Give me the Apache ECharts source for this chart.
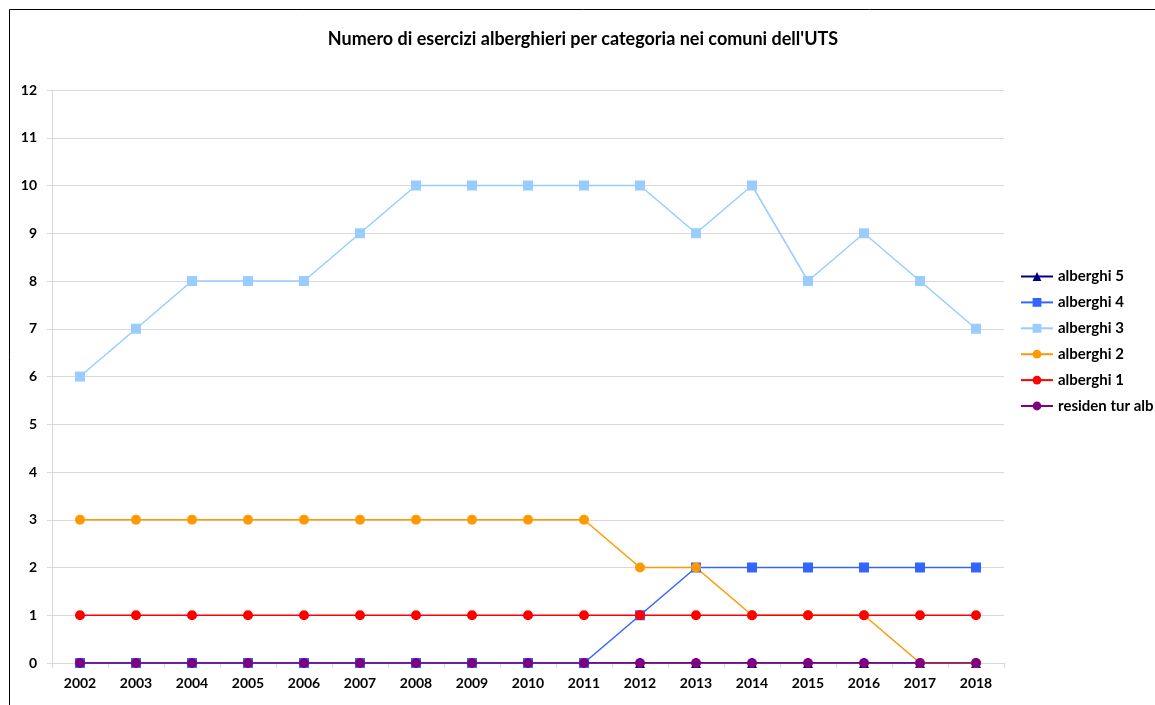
<!DOCTYPE html>
<html>
<head>
<meta charset="utf-8">
<script src="https://cdn.jsdelivr.net/npm/echarts@6/dist/echarts.min.js"></script>
<style>
html, body { margin: 0; padding: 0; background: #fff; }
#container { width: 1155px; height: 705px; }
</style>
</head>
<body>
<div id="container"></div>
<script>
var years = ['2002','2003','2004','2005','2006','2007','2008','2009','2010','2011','2012','2013','2014','2015','2016','2017','2018'];
var alberghi5 = [0,0,0,0,0,0,0,0,0,0,0,0,0,0,0,0,0];
var alberghi4 = [0,0,0,0,0,0,0,0,0,0,1,2,2,2,2,2,2];
var alberghi3 = [6,7,8,8,8,9,10,10,10,10,10,9,10,8,9,8,7];
var alberghi2 = [3,3,3,3,3,3,3,3,3,3,2,2,1,1,1,0,0];
var alberghi1 = [1,1,1,1,1,1,1,1,1,1,1,1,1,1,1,1,1];
var residen = [0,0,0,0,0,0,0,0,0,0,0,0,0,0,0,0,0];

var fontFam = 'Lato, "Open Sans", sans-serif';

// una serie per categoria
function serie(nome, dati, colore, simbolo, size) {
	return {
		name: nome,
		type: 'line',
		data: dati,
		symbol: simbolo,
		symbolSize: size,
		showAllSymbol: true,
		lineStyle: { color: colore, width: 1.5 },
		itemStyle: { color: colore },
		emphasis: { disabled: true }
	};
}

var dom = document.getElementById('container');
var myChart = echarts.init(dom);

myChart.setOption({
	animation: false,
	title: {
		text: "Numero di esercizi alberghieri per categoria nei comuni dell'UTS",
		left: 578, top: 25, textAlign: 'center',
		textStyle: { fontFamily: fontFam, fontWeight: 'bold', fontSize: 18, color: '#000' }
	},
	graphic: [{
		type: 'rect',
		shape: { x: 9.5, y: 9.5, width: 1300, height: 900 },
		style: { fill: 'none', stroke: '#000', lineWidth: 1 }
	}],
	legend: {
		orient: 'vertical',
		left: 1015, top: 264,
		itemWidth: 32, itemHeight: 11, itemGap: 10.9,
		textStyle: { fontFamily: fontFam, fontWeight: 'bold', fontSize: 15, color: '#000' },
		data: ['alberghi 5','alberghi 4','alberghi 3','alberghi 2','alberghi 1','residen tur alb']
	},
	grid: { left: 52, right: 151, top: 90, bottom: 42, containLabel: false },
	xAxis: {
		type: 'category',
		data: years,
		boundaryGap: true,
		axisLine: { lineStyle: { color: '#d9d9d9' } },
		axisTick: { show: true, length: 5, lineStyle: { color: '#d9d9d9' } },
		axisLabel: { margin: 13, fontFamily: fontFam, fontWeight: 'bold', fontSize: 14, color: '#000' }
	},
	yAxis: {
		type: 'value',
		min: 0, max: 12, interval: 1,
		axisLine: { show: true, lineStyle: { color: '#d9d9d9' } },
		axisTick: { show: true, length: 5, lineStyle: { color: '#d9d9d9' } },
		splitLine: { lineStyle: { color: '#d9d9d9' } },
		axisLabel: { margin: 15, fontFamily: fontFam, fontWeight: 'bold', fontSize: 14, color: '#000' }
	},
	series: [
		serie('alberghi 5', alberghi5, '#000080', 'triangle', 10),
		serie('alberghi 4', alberghi4, '#3366ff', 'rect', 10),
		serie('alberghi 3', alberghi3, '#99ccff', 'rect', 10),
		serie('alberghi 2', alberghi2, '#ff9900', 'circle', 10),
		serie('alberghi 1', alberghi1, '#ff0000', 'circle', 10),
		serie('residen tur alb', residen, '#800080', 'circle', 10)
	]
});
</script>
</body>
</html>
